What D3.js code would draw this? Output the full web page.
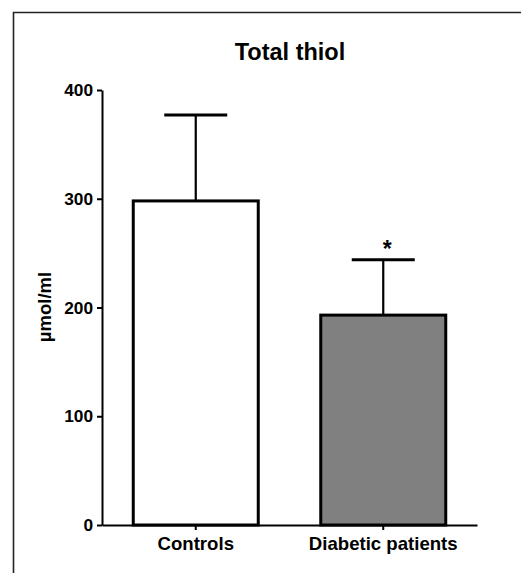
<!DOCTYPE html>
<html><head><meta charset="utf-8">
<script src="https://cdn.jsdelivr.net/npm/d3@7"></script>
<style>
html,body{margin:0;padding:0;background:#fff;}
svg{display:block;font-family:"Liberation Sans",Arial,sans-serif;font-weight:bold;}
</style></head>
<body><svg id="c" width="521" height="573"></svg>
<script>
const categories = ["Controls", "Diabetic patients"];
const means = [298, 193];
const sems = [79, 51];
const fills = ["#ffffff", "#808080"];
const significance = ["", "*"];
const yTicks = [0, 100, 200, 300, 400];
const title = "Total thiol";
const yLabel = "µmol/ml";

const svg = d3.select("#c");
const FF = "Liberation Sans, Arial, sans-serif";
// frame
svg.append("path").attr("d","M13.5,573 V12.5 H521").attr("fill","none").attr("stroke","#222").attr("stroke-width",1.6);

const x0 = 102, x1 = 477, yTop = 90, yBot = 525;
const x = d3.scaleBand().domain(categories).range([x0, x1]).paddingInner(1/3).paddingOuter(1/6);
const y = d3.scaleLinear().domain([0, 400]).range([yBot, yTop]);

svg.append("text").attr("x", 290).attr("y", 60).attr("text-anchor","middle").attr("font-size",23.5).text(title);

const yAxis = d3.axisLeft(y).tickValues(yTicks).tickSize(5).tickPadding(4).tickSizeOuter(0);
const gy = svg.append("g").attr("transform",`translate(${x0},0)`).call(yAxis);
gy.select(".domain").attr("stroke","#000").attr("stroke-width",2);
gy.selectAll(".tick line").attr("stroke","#000").attr("stroke-width",2);
gy.selectAll(".tick text").attr("font-size",17.3).attr("font-weight","bold").attr("font-family",FF).attr("fill","#000");

const xAxis = d3.axisBottom(x).tickSize(5).tickPadding(7).tickSizeOuter(0);
const gx = svg.append("g").attr("transform",`translate(0,${yBot})`).call(xAxis);
gx.select(".domain").attr("stroke","#000").attr("stroke-width",2);
gx.selectAll(".tick line").attr("stroke","#000").attr("stroke-width",2);
gx.selectAll(".tick text").attr("font-size",18.6).attr("font-weight","bold").attr("font-family",FF).attr("fill","#000");

const data = categories.map((c,i)=>({c, m:means[i], e:sems[i], f:fills[i], s:significance[i]}));
const capW = 63;
// error bars
const eb = svg.append("g");
data.forEach(d=>{
  const cx = x(d.c) + x.bandwidth()/2;
  eb.append("line").attr("x1",cx).attr("x2",cx).attr("y1",y(d.m)).attr("y2",y(d.m+d.e)).attr("stroke","#000").attr("stroke-width",2.2);
  eb.append("line").attr("x1",cx-capW/2).attr("x2",cx+capW/2).attr("y1",y(d.m+d.e)).attr("y2",y(d.m+d.e)).attr("stroke","#000").attr("stroke-width",3);
  if (d.s) eb.append("text").attr("x",cx+4).attr("y",y(d.m+d.e)-3).attr("text-anchor","middle").attr("font-size",23).text(d.s);
});
svg.append("g").selectAll("rect").data(data).join("rect")
  .attr("x",d=>x(d.c)).attr("width",x.bandwidth())
  .attr("y",d=>y(d.m)).attr("height",d=>yBot-y(d.m))
  .attr("fill",d=>d.f).attr("stroke","#000").attr("stroke-width",3);

svg.append("text").attr("transform",`translate(51,307) rotate(-90)`).attr("text-anchor","middle").attr("font-size",18.5).text(yLabel);
</script></body></html>
